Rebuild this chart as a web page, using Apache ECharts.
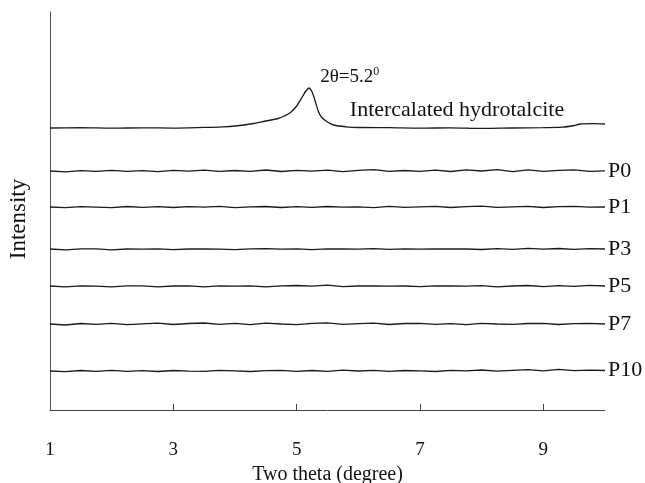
<!DOCTYPE html>
<html>
<head>
<meta charset="utf-8">
<script src="https://cdn.jsdelivr.net/npm/echarts@6/dist/echarts.min.js"></script>
<style>html,body{margin:0;padding:0;background:#fff}#c{width:645px;height:483px}</style>
</head>
<body>
<div id="c"></div>
<script>
// Shared x positions (two theta, degree) for the flat traces
var xs = [1,1.25,1.5,1.75,2,2.25,2.5,2.75,3,3.25,3.5,3.75,4,4.25,4.5,4.75,5,5.25,5.5,5.75,6,6.25,6.5,6.75,7,7.25,7.5,7.75,8,8.25,8.5,8.75,9,9.25,9.5,9.75,10];
var xTickLabels = [1,3,5,7,9];

// Intercalated hydrotalcite trace (own x grid, finer near the peak)
var hx = [1,1.5,2,2.5,3,3.5,3.8,4,4.3,4.5,4.7,4.8,4.9,5.0,5.1,5.15,5.2,5.25,5.3,5.35,5.4,5.5,5.6,5.8,6,6.5,7,7.5,8,8.5,9,9.3,9.5,9.6,9.8,10];
var hy = [282,282.3,281.8,282.2,281.9,282.6,283.2,284,286.5,289,291.5,294,297.5,304,314,319,322,318,309,299,293,288,285,283.2,282.5,282.3,281.8,282.2,281.6,282,282.3,282.8,284.5,286,286.3,286];

// Offset (stacked) intensity values, arbitrary units
var p0 = [239,238.2,239.4,238.6,239.7,238.7,239.3,238.4,239.6,238.9,239.9,238.6,239.5,238.7,240.0,238.5,239.6,238.9,239.8,238.4,239.7,240.3,238.6,239.5,238.7,239.9,238.5,240.1,239.0,240.4,238.4,240.1,238.7,239.7,240.2,238.6,239.2];
var p1 = [203,202.3,203.4,202.9,202.4,203.5,202.6,203.3,202.5,203.4,202.8,203.6,202.4,203.1,203.5,202.5,203.3,202.6,203.5,202.8,203.1,202.4,203.6,202.6,203.2,203.7,202.5,203.4,203.8,202.6,203.2,203.6,202.5,203.4,203.7,202.8,203];
var p3 = [161,160.1,161.1,161.2,160.2,161,160.9,161.2,160.3,161,161.2,160.8,160.4,161.1,161.3,160.8,161.1,160.3,161.2,161,160.8,161.3,160.7,161.1,160.8,161,161.2,161,160.5,161.4,160.7,161.6,160.8,161.5,160.6,161.3,161];
var p5 = [124,123.2,124.2,123.9,123.1,124.1,124.2,123.2,124,124.2,123.1,124.1,123.8,124.2,123.2,124.1,124.5,123.8,124.8,123.3,124,124.2,123.8,124,123.4,124.2,124,123.8,124.3,123.2,124,124.5,123.4,124.4,123.7,124.6,124];
var p7 = [86,85.0,86.5,85.7,86.7,85.4,86.2,86.9,85.5,86.5,87.0,85.7,86.6,85.4,86.8,86.0,85.3,86.6,87.1,85.6,86.3,86.8,85.5,86.5,86.7,85.7,86.3,85.4,86.6,86.0,85.6,86.5,86.7,85.5,86.3,86.6,86];
var p10 = [39,38.4,39.5,38.6,39.6,38.7,39.4,38.5,39.5,38.9,38.6,39.6,39.1,38.5,39.4,39.7,38.7,39.5,38.6,39.8,39,39.6,38.6,39.5,39.1,38.5,39.7,39.2,40.0,38.8,39.6,40.3,39.2,40.7,39.3,39.8,39.5];

var seriesNames = ['P0','P1','P3','P5','P7','P10'];
var seriesVals = [p0,p1,p3,p5,p7,p10];

var FONT = '"Liberation Serif", "DejaVu Serif", serif';
var LINE = '#1a1a1a';

function pairs(x, y){ return x.map(function(v,i){ return [v, y[i]]; }); }

var series = [{
  name: 'Intercalated hydrotalcite',
  type: 'line',
  data: pairs(hx, hy),
  showSymbol: false,
  smooth: 0.3,
  lineStyle: {color: LINE, width: 1.3},
  silent: true,
  markPoint: {
    symbol: 'circle', symbolSize: 0, silent: true,
    data: [
      {coord: [5.86, 333], label: {show: true, position: 'inside', fontFamily: FONT, fontSize: 19, color: '#111',
        formatter: '{a|2θ=5.2}{s|0}',
        rich: {a: {fontFamily: FONT, fontSize: 19, color: '#111'}, s: {fontFamily: FONT, fontSize: 12, color: '#111', verticalAlign: 'top', padding: [0,0,10,0]}}}},
      {coord: [7.6, 300], label: {show: true, position: 'inside', fontFamily: FONT, fontSize: 22, color: '#111', formatter: 'Intercalated hydrotalcite'}}
    ]
  }
}];

seriesNames.forEach(function(n, i){
  series.push({
    name: n,
    type: 'line',
    data: pairs(xs, seriesVals[i]),
    showSymbol: false,
    lineStyle: {color: LINE, width: 1.3},
    silent: true,
    endLabel: {show: true, formatter: n, distance: 3, fontFamily: FONT, fontSize: 22, color: '#111'}
  });
});

var chart = echarts.init(document.getElementById('c'), null, {renderer: 'canvas'});
chart.setOption({
  animation: false,
  backgroundColor: '#fff',
  grid: {left: 50, right: 40, top: 12, bottom: 73, containLabel: false, outerBoundsMode: 'none'},
  xAxis: {
    type: 'value', min: 1, max: 10,
    name: 'Two theta (degree)', nameLocation: 'middle', nameGap: 52,
    nameTextStyle: {fontFamily: FONT, fontSize: 20, color: '#111'},
    axisLine: {show: true, lineStyle: {color: '#444', width: 1}},
    axisTick: {show: true, inside: true, length: 6, customValues: [3,5,7,9], lineStyle: {color: '#444'}},
    axisLabel: {show: true, customValues: xTickLabels, margin: 31, fontFamily: FONT, fontSize: 19, color: '#111'},
    splitLine: {show: false}
  },
  yAxis: {
    type: 'value', min: 0, max: 398,
    name: 'Intensity', nameLocation: 'middle', nameGap: 20, nameRotate: 90,
    nameTextStyle: {fontFamily: FONT, fontSize: 23, color: '#111', padding: [0,16,0,0]},
    axisLine: {show: true, lineStyle: {color: '#555', width: 1}},
    axisTick: {show: false},
    axisLabel: {show: false},
    splitLine: {show: false}
  },
  series: series
});
</script>
</body>
</html>
